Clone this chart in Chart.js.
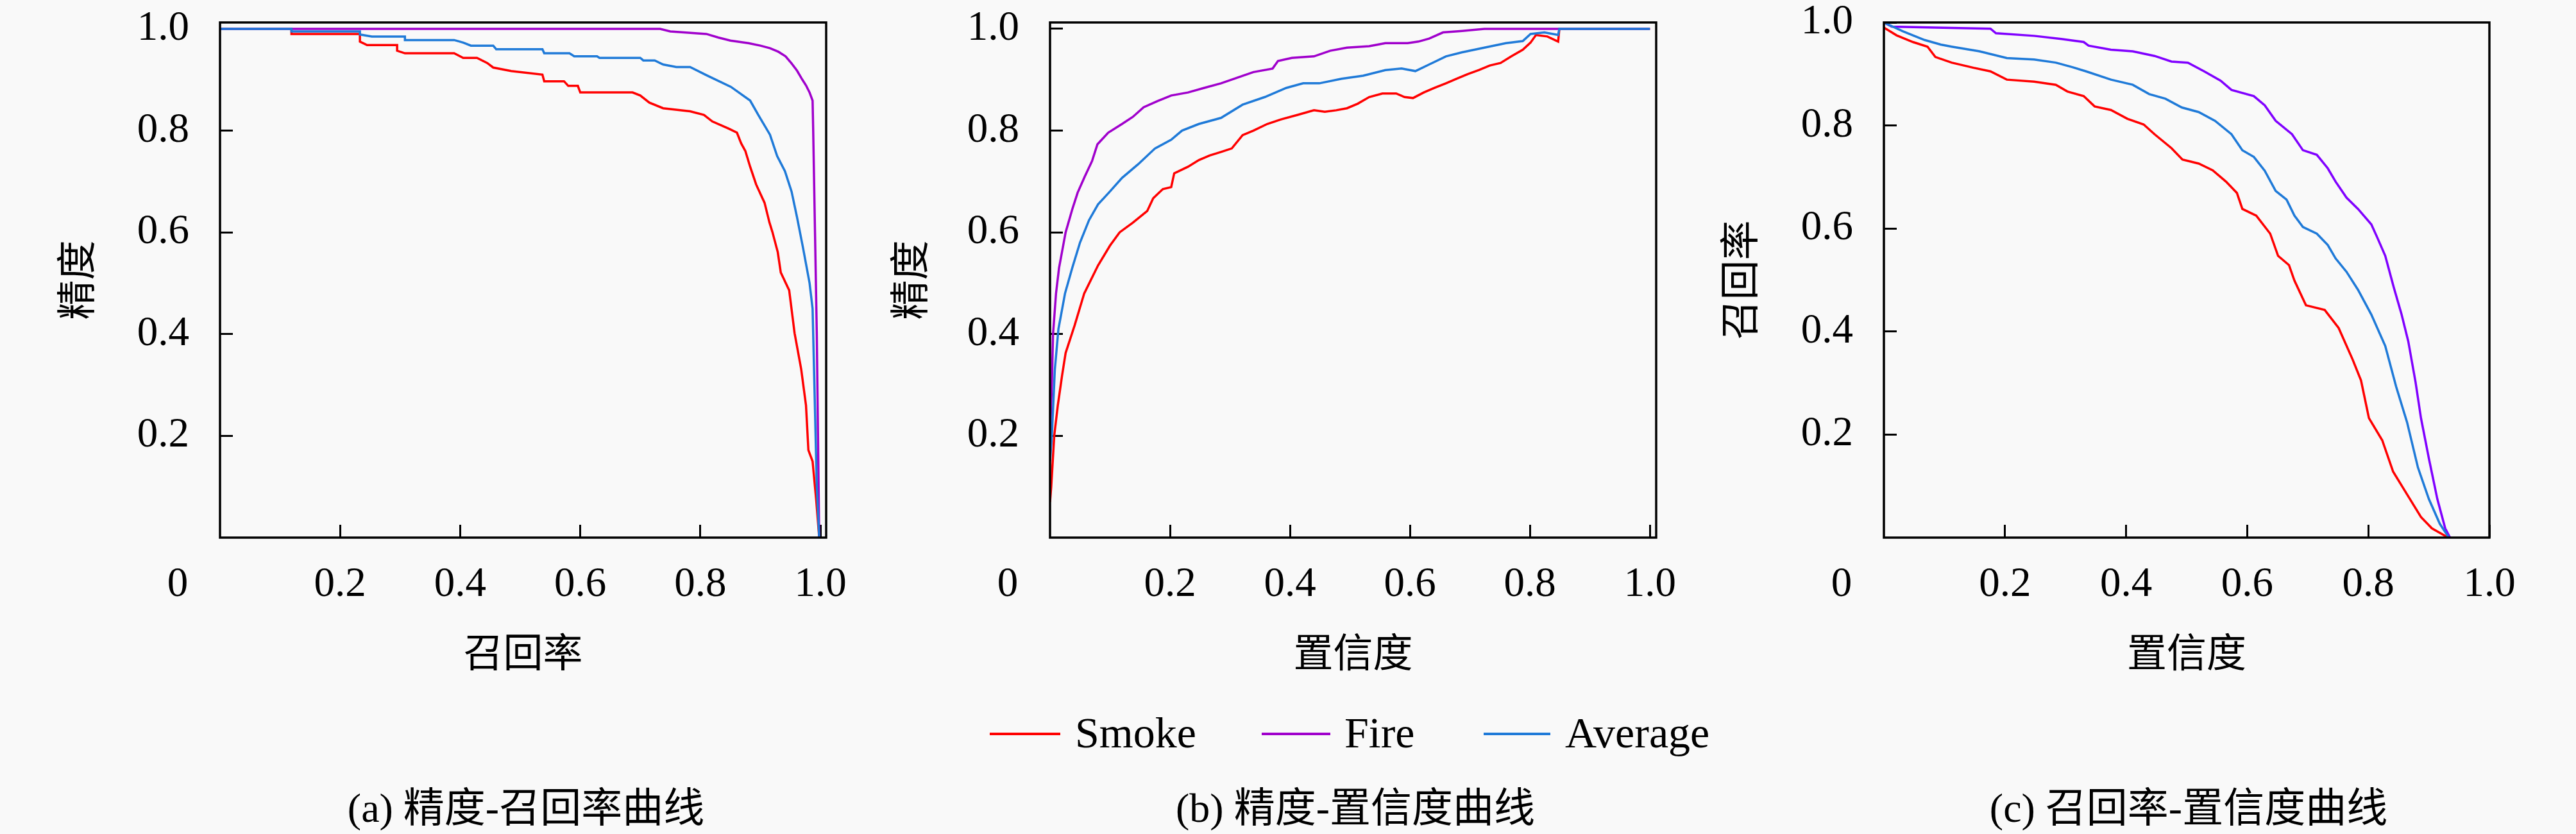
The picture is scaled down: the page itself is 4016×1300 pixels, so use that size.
<!DOCTYPE html>
<html>
<head>
<meta charset="utf-8">
<script src="https://cdn.jsdelivr.net/npm/chart.js@4.4.0/dist/chart.umd.min.js"></script>
<style>
  html, body { margin: 0; padding: 0; background: #f9f9f9; }
  #fig { position: relative; width: 4016px; height: 1300px; overflow: hidden;
         font-family: "Liberation Serif", "Noto Sans CJK SC", serif; color: #000; }
  .panel { position: absolute; top: 0; width: 1340px; height: 1100px; }
  .key-line { position: absolute; top: 1142px; height: 4px; }
  .key-text { position: absolute; top: 1102px; height: 80px; line-height: 80px; font-size: 68px; }
  .caption { position: absolute; top: 1220px; width: 1000px; height: 80px; line-height: 80px;
             font-size: 64px; text-align: center; white-space: nowrap; }
</style>
</head>
<body>
<div id="fig">
  <div class="panel" style="left:0px"><canvas id="chartA"></canvas></div>
  <div class="panel" style="left:1340px"><canvas id="chartB"></canvas></div>
  <div class="panel" style="left:2676px"><canvas id="chartC"></canvas></div>
  <div id="legend"></div>
  <div id="captions"></div>
</div>
<script>
const SERIF = '"Liberation Serif", "Noto Sans CJK SC", serif';

const seriesNames = ['Smoke', 'Fire', 'Average'];
const captions = ['(a) 精度-召回率曲线', '(b) 精度-置信度曲线', '(c) 召回率-置信度曲线'];
const xTitles = ['召回率', '置信度', '置信度'];
const yTitles = ['精度', '精度', '召回率'];
const axisTicks = [0.2, 0.4, 0.6, 0.8, 1.0];

// (a) precision vs recall, [recall, precision]
const prSmoke = [[0,1],[0.119,1],[0.119,0.99],[0.233,0.99],[0.233,0.975],[0.245,0.968],[0.295,0.968],[0.295,0.957],[0.308,0.952],[0.39,0.952],[0.405,0.943],[0.428,0.943],[0.445,0.933],[0.455,0.924],[0.485,0.917],[0.537,0.91],[0.54,0.897],[0.573,0.897],[0.58,0.888],[0.596,0.888],[0.6,0.875],[0.687,0.875],[0.7,0.869],[0.715,0.855],[0.738,0.844],[0.783,0.838],[0.806,0.831],[0.82,0.818],[0.847,0.804],[0.861,0.796],[0.868,0.775],[0.875,0.76],[0.883,0.729],[0.893,0.694],[0.907,0.658],[0.915,0.62],[0.92,0.601],[0.929,0.561],[0.934,0.521],[0.948,0.486],[0.957,0.402],[0.968,0.331],[0.976,0.26],[0.98,0.172],[0.987,0.15],[0.993,0.074],[0.998,0]];
const prFire = [[0,1],[0.733,1],[0.75,0.995],[0.81,0.99],[0.83,0.983],[0.85,0.977],[0.88,0.972],[0.9,0.967],[0.916,0.962],[0.93,0.955],[0.942,0.946],[0.952,0.932],[0.961,0.918],[0.97,0.9],[0.976,0.889],[0.982,0.875],[0.987,0.859],[0.988,0.8],[0.991,0.6],[0.994,0.4],[0.996,0.2],[0.998,0]];
const prAverage = [[0,1],[0.119,1],[0.119,0.995],[0.233,0.995],[0.233,0.989],[0.253,0.985],[0.308,0.985],[0.308,0.978],[0.39,0.978],[0.405,0.973],[0.418,0.967],[0.455,0.967],[0.46,0.96],[0.537,0.96],[0.54,0.952],[0.582,0.952],[0.59,0.946],[0.628,0.946],[0.632,0.943],[0.7,0.943],[0.705,0.938],[0.724,0.938],[0.738,0.93],[0.76,0.925],[0.783,0.925],[0.81,0.909],[0.851,0.886],[0.883,0.859],[0.897,0.83],[0.916,0.792],[0.928,0.75],[0.941,0.72],[0.952,0.68],[0.961,0.63],[0.971,0.57],[0.982,0.5],[0.987,0.45],[0.99,0.3],[0.994,0.1],[0.998,0]];

// (b) precision vs confidence, [confidence, precision]
const pcSmoke = [[0,0.07],[0.002,0.1],[0.007,0.2],[0.013,0.26],[0.02,0.318],[0.026,0.363],[0.041,0.417],[0.057,0.48],[0.08,0.535],[0.1,0.574],[0.116,0.6],[0.138,0.619],[0.162,0.642],[0.172,0.667],[0.188,0.685],[0.202,0.689],[0.207,0.716],[0.23,0.729],[0.248,0.742],[0.266,0.751],[0.285,0.758],[0.303,0.765],[0.321,0.791],[0.339,0.8],[0.362,0.813],[0.385,0.822],[0.413,0.831],[0.44,0.84],[0.458,0.837],[0.477,0.84],[0.495,0.844],[0.513,0.853],[0.532,0.866],[0.554,0.873],[0.577,0.873],[0.591,0.866],[0.605,0.864],[0.623,0.875],[0.641,0.884],[0.66,0.893],[0.678,0.902],[0.696,0.911],[0.715,0.919],[0.733,0.928],[0.751,0.933],[0.769,0.946],[0.788,0.959],[0.801,0.973],[0.81,0.988],[0.829,0.985],[0.847,0.975],[0.849,1],[1,1]];
const pcFire = [[0,0.2],[0.003,0.3],[0.005,0.4],[0.01,0.48],[0.015,0.53],[0.026,0.6],[0.037,0.645],[0.046,0.678],[0.058,0.71],[0.07,0.74],[0.079,0.773],[0.097,0.796],[0.12,0.813],[0.138,0.827],[0.156,0.846],[0.179,0.858],[0.202,0.869],[0.23,0.875],[0.257,0.884],[0.285,0.893],[0.312,0.904],[0.339,0.915],[0.371,0.922],[0.38,0.937],[0.403,0.943],[0.44,0.946],[0.467,0.957],[0.495,0.963],[0.532,0.966],[0.559,0.972],[0.596,0.972],[0.614,0.975],[0.632,0.981],[0.655,0.993],[0.687,0.996],[0.724,1],[1,1]];
const pcAverage = [[0,0.15],[0.003,0.2],[0.008,0.33],[0.014,0.41],[0.025,0.48],[0.037,0.53],[0.05,0.58],[0.065,0.624],[0.08,0.655],[0.098,0.678],[0.12,0.707],[0.147,0.734],[0.175,0.765],[0.202,0.782],[0.22,0.8],[0.248,0.813],[0.285,0.825],[0.321,0.851],[0.358,0.866],[0.394,0.884],[0.422,0.893],[0.449,0.893],[0.486,0.902],[0.522,0.908],[0.559,0.919],[0.586,0.922],[0.609,0.917],[0.632,0.93],[0.66,0.946],[0.687,0.954],[0.724,0.963],[0.76,0.972],[0.788,0.976],[0.801,0.99],[0.824,0.993],[0.847,0.988],[0.849,1],[1,1]];

// (c) recall vs confidence, [confidence, recall]
const rcSmoke = [[0,0.99],[0.021,0.975],[0.048,0.962],[0.072,0.953],[0.085,0.933],[0.112,0.922],[0.148,0.912],[0.176,0.905],[0.203,0.889],[0.248,0.885],[0.284,0.879],[0.303,0.866],[0.33,0.857],[0.348,0.837],[0.375,0.83],[0.402,0.813],[0.429,0.802],[0.447,0.783],[0.475,0.756],[0.493,0.734],[0.52,0.726],[0.543,0.713],[0.565,0.691],[0.583,0.669],[0.592,0.638],[0.615,0.625],[0.638,0.59],[0.651,0.547],[0.669,0.529],[0.678,0.499],[0.697,0.451],[0.728,0.442],[0.751,0.407],[0.774,0.346],[0.788,0.305],[0.801,0.232],[0.823,0.189],[0.841,0.128],[0.864,0.084],[0.887,0.04],[0.905,0.018],[0.932,0]];
const rcFire = [[0,1],[0.013,0.992],[0.085,0.99],[0.176,0.988],[0.185,0.979],[0.248,0.974],[0.293,0.968],[0.33,0.962],[0.338,0.955],[0.375,0.947],[0.411,0.944],[0.447,0.935],[0.475,0.924],[0.502,0.922],[0.529,0.905],[0.556,0.887],[0.574,0.869],[0.611,0.857],[0.629,0.839],[0.647,0.809],[0.674,0.783],[0.692,0.752],[0.715,0.743],[0.733,0.717],[0.746,0.691],[0.764,0.66],[0.783,0.638],[0.805,0.608],[0.815,0.582],[0.828,0.547],[0.842,0.486],[0.855,0.433],[0.866,0.381],[0.878,0.302],[0.887,0.232],[0.9,0.154],[0.914,0.075],[0.927,0.018],[0.935,0]];
const rcAverage = [[0,1],[0.031,0.983],[0.067,0.966],[0.094,0.957],[0.112,0.953],[0.158,0.944],[0.203,0.931],[0.248,0.928],[0.284,0.922],[0.312,0.913],[0.334,0.905],[0.375,0.889],[0.411,0.879],[0.438,0.861],[0.465,0.852],[0.492,0.835],[0.52,0.826],[0.547,0.809],[0.574,0.783],[0.592,0.752],[0.611,0.739],[0.629,0.712],[0.647,0.673],[0.665,0.656],[0.678,0.625],[0.692,0.603],[0.715,0.59],[0.733,0.568],[0.746,0.542],[0.764,0.516],[0.783,0.481],[0.805,0.433],[0.828,0.372],[0.846,0.293],[0.864,0.224],[0.882,0.136],[0.9,0.075],[0.918,0.027],[0.933,0]];

const RED = '#ff0000';
const PURPLE = '#a000cc';
const VIOLET = '#8000ff';
const BLUE = '#1f7ad8';

// black box round the plot area
const framePlugin = {
  id: 'frame',
  afterDraw(chart) {
    const { ctx, chartArea: a } = chart;
    ctx.save();
    ctx.strokeStyle = '#000';
    ctx.lineWidth = 3.5;
    ctx.strokeRect(a.left, a.top, a.right - a.left, a.bottom - a.top);
    ctx.restore();
  }
};

// single "0" sitting below-left of the origin
const zeroPlugin = {
  id: 'cornerZero',
  afterDraw(chart) {
    const { ctx, chartArea: a, scales } = chart;
    ctx.save();
    ctx.font = `65px ${SERIF}`;
    ctx.fillStyle = '#000';
    ctx.textAlign = 'center';
    ctx.textBaseline = 'middle';
    ctx.fillText('0', scales.x.getPixelForValue(0) - 66, a.bottom + 74);
    ctx.restore();
  }
};

function _toPoints(arr) {
  return arr.map(p => ({ x: p[0], y: p[1] }));
}

function _dataset(label, arr, color, order) {
  return {
    label: label,
    data: _toPoints(arr),
    borderColor: color,
    backgroundColor: color,
    borderWidth: 3.5,
    pointRadius: 0,
    tension: 0,
    fill: false,
    order: order
  };
}

function _axis(max, title, titlePad, size, isY) {
  return {
    type: 'linear',
    min: 0,
    max: max,
    afterBuildTicks: s => { s.ticks = axisTicks.map(v => ({ value: v })); },
    afterFit: s => {
      if (isY) s.width = size; else s.height = size;
      s.paddingTop = 0; s.paddingBottom = 0; s.paddingLeft = 0; s.paddingRight = 0;
    },
    grid: { drawOnChartArea: false, drawTicks: true, tickLength: -20, tickColor: '#000', tickWidth: 3 },
    border: { display: false },
    ticks: {
      color: '#000',
      font: { family: SERIF, size: 65, lineHeight: 1 },
      padding: isY ? 68 : 61.5,
      autoSkip: false,
      maxRotation: 0,
      callback: v => Number(v).toFixed(1)
    },
    title: {
      display: true,
      text: title,
      color: '#000',
      font: { family: SERIF, size: 62, lineHeight: 1 },
      padding: isY ? { top: titlePad, bottom: 0 } : { top: 0, bottom: titlePad }
    }
  };
}

function _makeChart(id, idx, sets, fire, opts) {
  return new Chart(document.getElementById(id), {
    type: 'line',
    data: {
      datasets: [
        _dataset(seriesNames[0], sets[0], RED, 2),
        _dataset(seriesNames[1], sets[1], fire, 1),
        _dataset(seriesNames[2], sets[2], BLUE, 0)
      ]
    },
    options: {
      responsive: true,
      maintainAspectRatio: false,
      animation: false,
      layout: { padding: { left: 0, top: 35, right: opts.right, bottom: 0 } },
      plugins: { legend: { display: false }, tooltip: { enabled: false } },
      scales: {
        x: _axis(opts.xMax, xTitles[idx], 45, 262, false),
        y: _axis(opts.yMax, yTitles[idx], opts.yTitlePad, opts.yWidth, true)
      }
    },
    plugins: [framePlugin, zeroPlugin]
  });
}

_makeChart('chartA', 0, [prSmoke, prFire, prAverage], PURPLE, { xMax: 1.0096, yMax: 1.0126, right: 52, yWidth: 343, yTitlePad: 95 });
_makeChart('chartB', 1, [pcSmoke, pcFire, pcAverage], PURPLE, { xMax: 1.0104, yMax: 1.0126, right: 98, yWidth: 297, yTitlePad: 54 });
_makeChart('chartC', 2, [rcSmoke, rcFire, rcAverage], VIOLET, { xMax: 1.0, yMax: 1.0, right: 135, yWidth: 261, yTitlePad: 12 });

// shared legend and sub captions
const keyLines = [[1543, 110], [1967, 107], [2313, 104]];
const keyTexts = [1676, 2096, 2440];
const keyColors = [RED, PURPLE, BLUE];
const legend = document.getElementById('legend');
legend.innerHTML = seriesNames.map((name, i) => `
  <div class="key-line" style="left:${keyLines[i][0]}px;width:${keyLines[i][1]}px;background:${keyColors[i]}"></div>
  <div class="key-text" style="left:${keyTexts[i]}px">${name}</div>`).join('');

const captionCenters = [820, 2113, 3412];
document.getElementById('captions').innerHTML = captions.map((c, i) =>
  `<div class="caption" style="left:${captionCenters[i] - 500}px">${c}</div>`).join('');
</script>
</body>
</html>
